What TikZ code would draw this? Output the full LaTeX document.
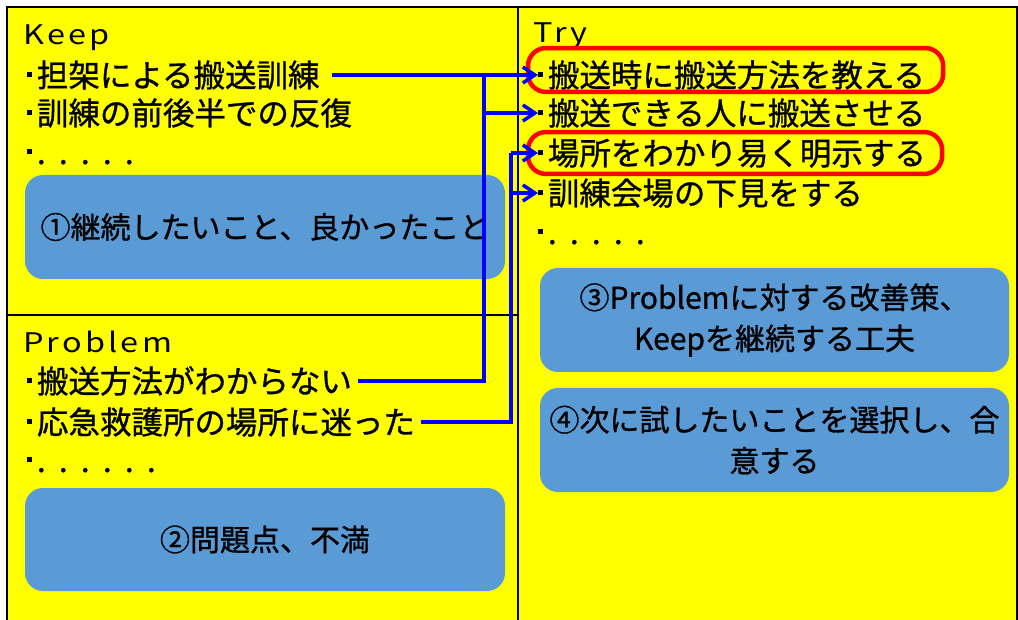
\documentclass[tikz,border=0pt]{standalone}
\usepackage{fontspec}
\setmainfont[FakeBold=1]{Noto Sans CJK JP}
\newfontfamily\headfont[FakeStretch=1.2,LetterSpace=12]{Noto Sans CJK JP}
\usetikzlibrary{arrows.meta}
\definecolor{sheet}{HTML}{FFFF00}
\definecolor{noteblue}{HTML}{5B9BD5}
\newcommand\pd{\makebox[22pt][l]{.}}
\newcommand\bul{\makebox[15.75pt]{\rule[9.5pt]{5pt}{5pt}}}

\begin{document}
\begin{tikzpicture}[x=1pt,y=-1pt,
  head/.style={anchor=base west,inner sep=0pt,font=\headfont\fontsize{27}{27}\selectfont},
  item/.style={anchor=west,inner sep=0pt,text height=27.7pt,text depth=3.8pt,font=\fontsize{31.5}{38}\selectfont},
  notebox/.style={fill=noteblue,rounded corners=18pt,align=center,inner sep=0pt,font=\fontsize{30}{41}\selectfont},
  ring/.style={draw=red,line width=4.5pt,rounded corners=18pt},
  bus/.style={draw=blue,line width=3.5pt},
  link/.style={bus,-{Straight Barb[length=12pt,width=16pt]},shorten >=-6pt}]
  \useasboundingbox[fill=white] (0,0) rectangle (1018,620);
  \clip (0,0) rectangle (1018,620);
  \draw[fill=sheet,line width=2pt] (7,7) rectangle (1017,640);
  \draw[line width=2pt] (518,7) -- (518,640) (7,315) -- (518,315);

  \node[notebox,minimum width=480pt,minimum height=104pt] (keepNote) at (265,227) {①継続したいこと、良かったこと};
  \node[notebox,minimum width=480pt,minimum height=103pt] (probNote) at (265,539.5) {②問題点、不満};
  \node[notebox,minimum width=469pt,minimum height=104pt] (tryNote) at (774.5,320) {③Problemに対する改善策、\\Keepを継続する工夫};
  \node[notebox,minimum width=469pt,minimum height=104pt] (nextNote) at (774.5,440) {④次に試したいことを選択し、合\\意する};

  \node[head] (keep) at (23,45) {Keep};
  \node[item] (keepA) at (21,75) {\bul 担架による搬送訓練};
  \node[item] (keepB) at (21,113) {\bul 訓練の前後半での反復};
  \node[item] (keepC) at (21,152) {\bul\pd\pd\pd\pd\pd};

  \node[head] (prob) at (23,353) {Problem};
  \node[item] (probA) at (21,381) {\bul 搬送方法がわからない};
  \node[item] (probB) at (21,422) {\bul 応急救護所の場所に迷った};
  \node[item] (probC) at (21,460) {\bul\pd\pd\pd\pd\pd\pd};

  \node[head] (try) at (533,43) {Try};
  \node[item] (tryA) at (532,75) {\bul 搬送時に搬送方法を教える};
  \node[item] (tryB) at (532,113) {\bul 搬送できる人に搬送させる};
  \node[item] (tryC) at (532,153) {\bul 場所をわかり易く明示する};
  \node[item] (tryD) at (532,193) {\bul 訓練会場の下見をする};
  \node[item] (tryE) at (532,232) {\bul\pd\pd\pd\pd\pd};

  \draw[ring] ([xshift=-4pt,yshift=11pt]tryA.north west) rectangle ([xshift=18pt,yshift=-1pt]tryA.south east);
  \draw[ring] ([xshift=-4pt,yshift=5pt]tryC.north west) rectangle ([xshift=16pt,yshift=-5pt]tryC.south east);

  \coordinate (j1) at (484,75);
  \coordinate (j2) at (511,153);
  \draw[link,shorten <=12pt] (keepA.east) -- (tryA.west);
  \draw[bus,shorten <=6pt] (probA.east) -| (j1);
  \draw[link] (j1 |- tryB.west) -- (tryB.west);
  \draw[bus,shorten <=6pt] (probB.east) -| (j2);
  \draw[link] (j2) -- (tryC.west);
  \draw[link] (j2 |- tryD.west) -- (tryD.west);
\end{tikzpicture}
\end{document}
